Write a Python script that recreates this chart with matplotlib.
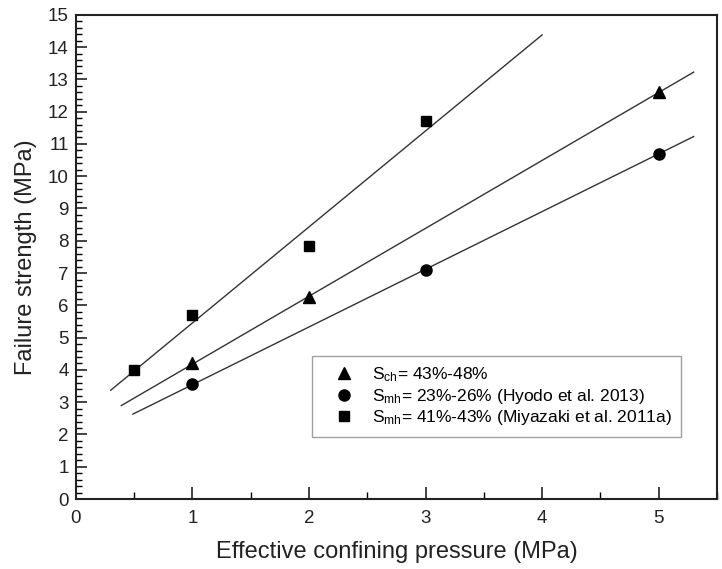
import numpy as np
import matplotlib
matplotlib.use("Agg")
import matplotlib.pyplot as plt
from matplotlib.ticker import MultipleLocator

plt.rcParams['font.family'] = ['Liberation Sans', 'DejaVu Sans']
plt.rcParams['mathtext.fontset'] = 'custom'
plt.rcParams['mathtext.rm'] = 'Liberation Sans'
plt.rcParams['mathtext.it'] = 'Liberation Sans'

# Data
sch_x = [1, 2, 5]
sch_y = [4.2, 6.25, 12.6]
smh_hyodo_x = [1, 3, 5]
smh_hyodo_y = [3.55, 7.1, 10.7]
smh_miya_x = [0.5, 1, 2, 3]
smh_miya_y = [4.0, 5.7, 7.85, 11.7]

# x extents of the fitted lines
sch_line_range = [0.39, 5.3]
hyodo_line_range = [0.49, 5.3]
miya_line_range = [0.30, 4.0]

labels = [r'S$_{\mathrm{ch}}$= 43%-48%',
          r'S$_{\mathrm{mh}}$= 23%-26% (Hyodo et al. 2013)',
          r'S$_{\mathrm{mh}}$= 41%-43% (Miyazaki et al. 2011a)']

fig = plt.figure(figsize=(7.22, 5.69), dpi=100)
ax = fig.add_axes([0.105, 0.123, 0.888, 0.851])

line_color = '#333333'
series = [
    (sch_x, sch_y, sch_line_range, '^', 8.5, labels[0]),
    (smh_hyodo_x, smh_hyodo_y, hyodo_line_range, 'o', 8, labels[1]),
    (smh_miya_x, smh_miya_y, miya_line_range, 's', 7, labels[2]),
]
for xs, ys, rng, mk, ms, lab in series:
    k, b = np.polyfit(xs, ys, 1)
    lx = np.array(rng)
    ax.plot(lx, k * lx + b, color=line_color, lw=1.0, zorder=2)
    ax.plot(xs, ys, linestyle='none', marker=mk, ms=ms, color='black',
            label=lab, zorder=3)

ax.set_xlim(0, 5.5)
ax.set_ylim(0, 15)
ax.xaxis.set_major_locator(MultipleLocator(1))
ax.xaxis.set_minor_locator(MultipleLocator(0.5))
ax.yaxis.set_major_locator(MultipleLocator(1))
ax.yaxis.set_minor_locator(MultipleLocator(0.2))
ax.tick_params(axis='x', which='major', direction='in', length=9, width=1.2,
               labelsize=13.5, pad=8, colors='#222222')
ax.tick_params(axis='x', which='minor', direction='in', length=5, width=1.0)
ax.tick_params(axis='y', which='major', direction='in', length=8, width=1.2,
               labelsize=13.5, pad=5, colors='#222222')
ax.tick_params(axis='y', which='minor', direction='in', length=4, width=1.0)
for sp in ax.spines.values():
    sp.set_linewidth(1.5)
    sp.set_color('#222222')

ax.set_xlabel('Effective confining pressure (MPa)', fontsize=17, labelpad=10,
              color='#222222')
ax.set_ylabel('Failure strength (MPa)', fontsize=17, labelpad=8, color='#222222')

leg = ax.legend(loc='lower left', bbox_to_anchor=(0.368, 0.128), fontsize=12.5,
                frameon=True, fancybox=False, handlelength=2.6,
                handletextpad=0.3, borderpad=0.55, labelspacing=0.15,
                borderaxespad=0)
leg.get_frame().set_edgecolor('#888888')
leg.get_frame().set_linewidth(1.0)

fig.savefig('out.png', dpi=100)
